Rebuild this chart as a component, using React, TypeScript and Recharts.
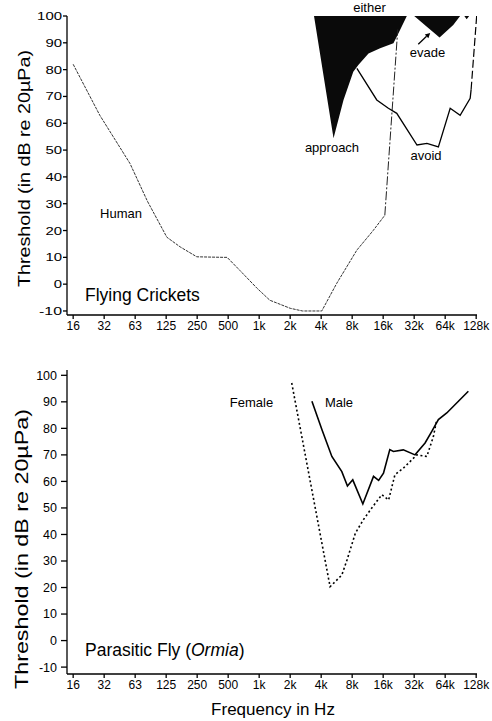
import React from 'react';
import { ComposedChart, Line, Area, XAxis, YAxis, ReferenceLine } from 'recharts';

// frequency ticks (Hz) and their printed labels
const xTicks = [16, 32, 64, 128, 256, 512, 1024, 2048, 4096, 8192, 16384, 32768, 65536, 131072];
const xTickLabels = ['16', '32', '63', '125', '250', '500', '1k', '2k', '4k', '8k', '16k', '32k', '64k', '128k'];
const yTicks = [-10, 0, 10, 20, 30, 40, 50, 60, 70, 80, 90, 100];

// Flying crickets panel
const humanFreq = [16, 29, 57, 84, 130, 175, 254, 462, 500, 670, 975, 1300, 2050, 2700, 4150, 5800, 9100, 13100, 17000];
const humanDb = [82, 63, 45, 31, 17.5, 13.9, 10.2, 10, 10, 5, -1.5, -6, -9, -10, -10, 0.3, 12.7, 20, 25.7];
const humanHighFreq = [17000, 22700];
const humanHighDb = [25.7, 95];

const approachFreq = [3490, 5400, 6750, 8400, 9400, 11800, 15300, 20600, 23000, 27800];
const approachLow = [100, 54.4, 68.7, 79.2, 81.7, 86, 88, 89.8, 93.5, 100];

const evadeFreq = [32800, 43500, 57800, 78500, 91500, 100500, 106000, 112000];
const evadeLow = [100, 96, 92, 96.6, 100, 100, 98.8, 100];

const avoidFreq = [9100, 14200, 18400, 22200, 34900, 43600, 56300, 73300, 91600, 114600, 117000];
const avoidDb = [80.5, 68.7, 65.6, 63.7, 51.9, 52.5, 51.2, 65.6, 63, 69.3, 72.5];
const avoidEdgeFreq = [117000, 132500];
const avoidEdgeDb = [72.5, 100];

// Parasitic fly panel
const femaleFreq = [2120, 5000, 6500, 7300, 8800, 10500, 12700, 15900, 18500, 21300, 25700, 34800, 43500, 50400, 54300];
const femaleDb = [97.1, 20.3, 24.7, 30.4, 40.5, 45.5, 50, 55, 53, 62.5, 65, 70, 69.4, 77, 83.3];
const maleFreq = [3330, 4170, 5200, 6500, 7370, 8300, 10400, 13200, 14800, 16500, 19000, 20600, 25700, 33400, 41800, 48600, 56300, 67900, 110000];
const maleDb = [90.2, 79.5, 69.4, 63.7, 58.3, 60.6, 51.5, 61.9, 60.4, 63.1, 72, 71.3, 71.9, 70, 74.5, 78.9, 83.3, 85.8, 94];

const toLine = (f: number[], d: number[]) => f.map((v, i) => ({ f: v, db: d[i] }));
const toBand = (f: number[], low: number[]) => f.map((v, i) => ({ f: v, range: [low[i], 100] }));

const FONT = '"Liberation Sans", Arial, sans-serif';
const xDomain = [13.94, 133500];

const TopYTick = ({ x, y, payload }: any) => {
  const s = String(payload.value);
  const len = payload.value < 0 ? 23 : s.length * 8.3;
  return (
    <text x={x} y={y} textAnchor="end" dominantBaseline="central" fontSize={11.5} fontFamily={FONT} fill="#000"
      textLength={len} lengthAdjust="spacingAndGlyphs">{s}</text>
  );
};

const fmtX = (v: number) => xTickLabels[xTicks.indexOf(v)] ?? '';

const EvadeArrow = (p: any) => {
  const { x1, y1, x2, y2 } = p;
  const a = Math.atan2(y2 - y1, x2 - x1);
  const L = 5;
  const w = 2.6;
  const bx = x2 - L * Math.cos(a);
  const by = y2 - L * Math.sin(a);
  const pts = `${x2},${y2} ${bx + w * Math.sin(a)},${by - w * Math.cos(a)} ${bx - w * Math.sin(a)},${by + w * Math.cos(a)}`;
  return (
    <g>
      <line x1={x1} y1={y1} x2={bx} y2={by} stroke="#000" strokeWidth={1.3} />
      <polygon points={pts} fill="#000" />
    </g>
  );
};

const labelStyle = { fontFamily: FONT, fontSize: 13, fill: '#000' };

export default function App() {
  return (
    <div style={{ position: 'absolute', left: 0, top: 0, width: 492, height: 721, background: '#fff' }}>
      <div style={{ position: 'absolute', left: 0, top: 0 }}>
        <ComposedChart width={492} height={345} margin={{ top: 16, right: 15, left: 0, bottom: 0 }}>
          <XAxis dataKey="f" type="number" scale="log" domain={xDomain} ticks={xTicks} tickFormatter={fmtX}
            allowDataOverflow interval={0} height={30} tickSize={4} tickMargin={2}
            stroke="#000" strokeWidth={1.3} tick={{ fontSize: 12, fill: '#000', fontFamily: FONT }} />
          <YAxis type="number" domain={[-11.5, 100]} ticks={yTicks} allowDataOverflow interval={0} width={67}
            tickSize={4} tickMargin={1} stroke="#000" strokeWidth={1.3} tick={<TopYTick />} />
          <Area data={toBand(approachFreq, approachLow)} dataKey="range" type="linear" fill="#0a0a0a" fillOpacity={1}
            stroke="none" isAnimationActive={false} />
          <Area data={toBand(evadeFreq, evadeLow)} dataKey="range" type="linear" fill="#0a0a0a" fillOpacity={1}
            stroke="none" isAnimationActive={false} />
          <Line data={toLine(humanFreq, humanDb)} dataKey="db" type="linear" stroke="#333" strokeWidth={1}
            strokeDasharray="3 1" dot={false} activeDot={false} isAnimationActive={false} />
          <Line data={toLine(humanHighFreq, humanHighDb)} dataKey="db" type="linear" stroke="#222" strokeWidth={1}
            strokeDasharray="9 2 2 2" dot={false} activeDot={false} isAnimationActive={false} />
          <Line data={toLine(avoidFreq, avoidDb)} dataKey="db" type="linear" stroke="#000" strokeWidth={1.3}
            dot={false} activeDot={false} isAnimationActive={false} />
          <Line data={toLine(avoidEdgeFreq, avoidEdgeDb)} dataKey="db" type="linear" stroke="#000" strokeWidth={1.2}
            strokeDasharray="8 3" dot={false} activeDot={false} isAnimationActive={false} />
          <ReferenceLine segment={[{ x: 35900, y: 89.5 }, { x: 46900, y: 93.7 }]} shape={<EvadeArrow />} ifOverflow="visible" />
          <text x={24} y={168.5} transform="rotate(-90 24 168.5)" textAnchor="middle" dominantBaseline="central"
            fontFamily={FONT} fontSize={17} textLength={237} lengthAdjust="spacingAndGlyphs" fill="#000">
            Threshold (in dB re 20µPa)
          </text>
          <text x={121} y={213} textAnchor="middle" dominantBaseline="central" style={labelStyle}>Human</text>
          <text x={332} y={147.5} textAnchor="middle" dominantBaseline="central" style={labelStyle}>approach</text>
          <text x={426} y={155} textAnchor="middle" dominantBaseline="central" style={labelStyle}>avoid</text>
          <text x={369.5} y={7.5} textAnchor="middle" dominantBaseline="central" style={labelStyle}>either</text>
          <text x={427.5} y={52} textAnchor="middle" dominantBaseline="central" style={labelStyle}>evade</text>
          <text x={85} y={295} dominantBaseline="central" fontFamily={FONT} fontSize={17.5} fill="#000">Flying Crickets</text>
        </ComposedChart>
      </div>
      <div style={{ position: 'absolute', left: 0, top: 345 }}>
        <ComposedChart width={492} height={376} margin={{ top: 25, right: 15, left: 0, bottom: 0 }}>
          <XAxis dataKey="f" type="number" scale="log" domain={xDomain} ticks={xTicks} tickFormatter={fmtX}
            allowDataOverflow interval={0} height={47} tickSize={4} tickMargin={2}
            stroke="#000" strokeWidth={1.3} tick={{ fontSize: 12, fill: '#000', fontFamily: FONT }} />
          <YAxis type="number" domain={[-12.6, 102]} ticks={yTicks} allowDataOverflow interval={0} width={67}
            tickSize={6} tickMargin={4} stroke="#000" strokeWidth={1.3}
            tick={{ fontSize: 12.5, fill: '#000', fontFamily: FONT }} />
          <Line data={toLine(femaleFreq, femaleDb)} dataKey="db" type="linear" stroke="#000" strokeWidth={1.6}
            strokeDasharray="2 2.5" dot={false} activeDot={false} isAnimationActive={false} />
          <Line data={toLine(maleFreq, maleDb)} dataKey="db" type="linear" stroke="#000" strokeWidth={1.6}
            dot={false} activeDot={false} isAnimationActive={false} />
          <text x={21} y={204} transform="rotate(-90 21 204)" textAnchor="middle" dominantBaseline="central"
            fontFamily={FONT} fontSize={18.5} textLength={280} lengthAdjust="spacingAndGlyphs" fill="#000">
            Threshold (in dB re 20µPa)
          </text>
          <text x={251.5} y={57} textAnchor="middle" dominantBaseline="central" style={labelStyle}>Female</text>
          <text x={339} y={57} textAnchor="middle" dominantBaseline="central" style={labelStyle}>Male</text>
          <text x={85} y={305} dominantBaseline="central" fontFamily={FONT} fontSize={17.5} fill="#000">
            Parasitic Fly (<tspan fontStyle="italic">Ormia</tspan>)
          </text>
          <text x={273} y={364} textAnchor="middle" dominantBaseline="central" fontFamily={FONT} fontSize={17} fill="#000">
            Frequency in Hz
          </text>
        </ComposedChart>
      </div>
    </div>
  );
}
